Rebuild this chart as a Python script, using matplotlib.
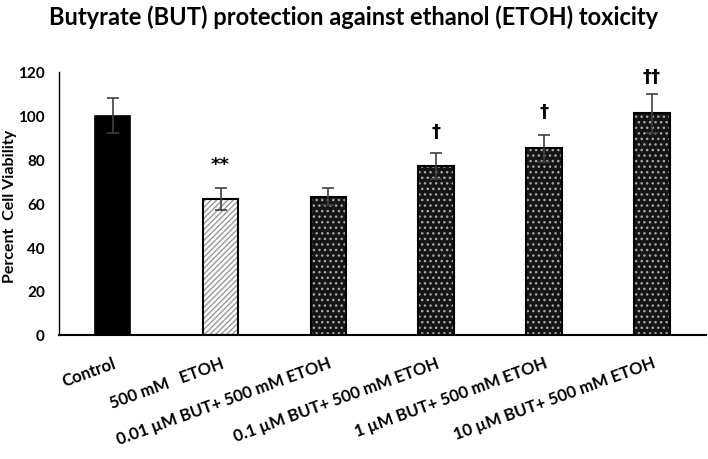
import matplotlib.pyplot as plt
import numpy as np

plt.rcParams['font.family'] = ['Lato', 'DejaVu Sans']
plt.rcParams['hatch.linewidth'] = 1.0

groups = ['Control', '500 mM   ETOH', '0.01 µM BUT+ 500 mM ETOH',
          '0.1 µM BUT+ 500 mM ETOH', '1 µM BUT+ 500 mM ETOH',
          '10 µM BUT+ 500 mM ETOH']
viability = [100, 62, 63, 77, 85, 101]
errors = [8, 5, 4, 6, 6, 9]
marks = ['', '**', '', '†', '†', '††']
mark_y = [0, 78, 0, 93, 102, 118]

fig = plt.figure(figsize=(7.08, 4.6), dpi=100)
ax = fig.add_axes([0.083, 0.27, 0.914, 0.572])

x = np.arange(len(groups))
w = 0.33

# control: solid black
ax.bar(x[0], viability[0], w, color='black', edgecolor='black', lw=1.2, zorder=2)
# ethanol: grey diagonal hatch
ax.bar(x[1], viability[1], w, color='white', edgecolor='#999999', hatch='//////', lw=0, zorder=2)
ax.bar(x[1], viability[1], w, fill=False, edgecolor='black', lw=1.5, zorder=3)
# butyrate groups: dark dotted
ax.bar(x[2:], viability[2:], w, color='#151515', edgecolor='#a8a8a8', hatch='...', lw=0, zorder=2)
ax.bar(x[2:], viability[2:], w, fill=False, edgecolor='black', lw=1.5, zorder=3)

ax.errorbar(x, viability, yerr=errors, fmt='none', ecolor='#404040',
            elinewidth=1.2, capsize=4, capthick=1.2, zorder=4)

for xi, m, my in zip(x, marks, mark_y):
    if m:
        ax.text(xi, my, m, ha='center', va='center', fontsize=13,
                fontweight='bold', family=['DejaVu Sans'])

ax.set_xlim(-0.5, 5.5)
ax.set_ylim(0, 120)
ax.set_yticks(range(0, 121, 20))
ax.tick_params(axis='y', length=0, labelsize=11, pad=10)
ax.tick_params(axis='x', length=0, labelsize=12, pad=14)
for t in ax.get_yticklabels():
    t.set_fontweight('bold')
ax.set_xticks(x)
ax.set_xticklabels(groups, rotation=20, ha='right', rotation_mode='anchor',
                   fontweight='bold')

ax.spines['top'].set_visible(False)
ax.spines['right'].set_visible(False)
ax.spines['left'].set_linewidth(1.0)
ax.spines['bottom'].set_linewidth(1.5)

ax.set_ylabel('Percent  Cell Viability', fontsize=11.5, fontweight='bold')
ax.yaxis.set_label_coords(-0.064, 0.49)
fig.text(0.5, 0.962, 'Butyrate (BUT) protection against ethanol (ETOH) toxicity',
         ha='center', va='center', fontsize=17, fontweight='bold')

fig.savefig('out.png', dpi=100)
